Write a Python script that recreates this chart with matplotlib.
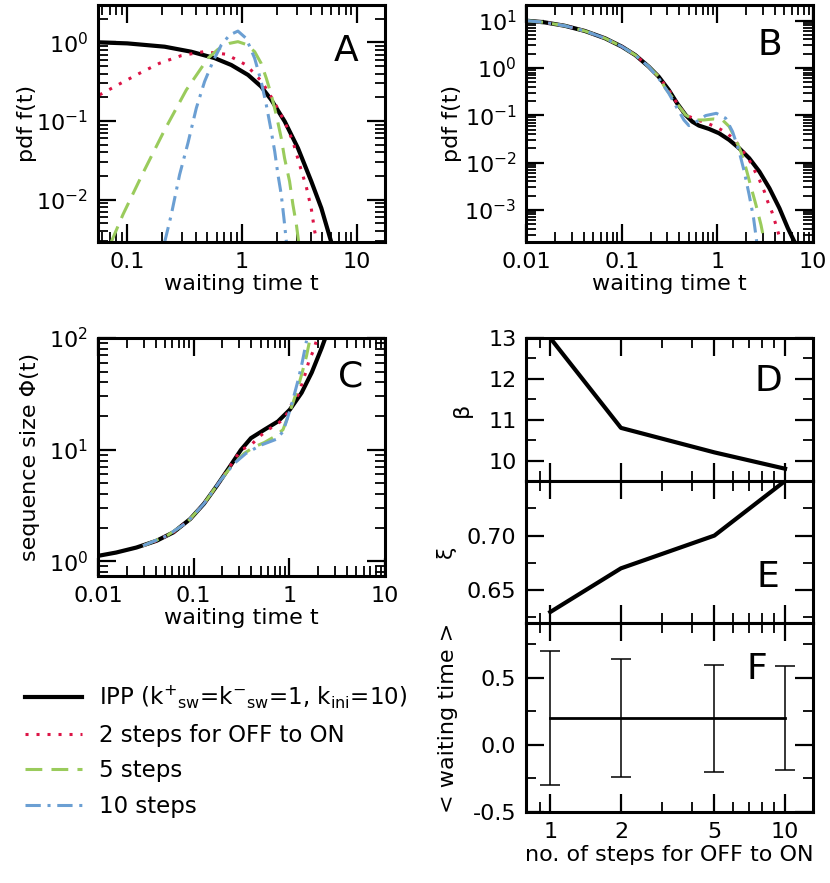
import numpy as np
import matplotlib.pyplot as plt
from matplotlib import ticker

plt.rcParams['font.family'] = ['DejaVu Sans']
plt.rcParams['mathtext.default'] = 'regular'
plt.rcParams['axes.unicode_minus'] = False

# ---------------- data ----------------
# A : pdf f(t), IPP (k_sw = 1, k_ini = 10)
tA_ipp = [0.0555, 0.1, 0.212, 0.361, 0.578, 0.807, 1.13, 1.47, 1.80, 2.36, 3.08, 4.02, 4.92, 6.0]
fA_ipp = [1.0, 0.97, 0.88, 0.76, 0.63, 0.515, 0.385, 0.274, 0.186, 0.0986, 0.045, 0.0171, 0.0078, 0.0029]
tA_2 = [0.0574, 0.0857, 0.128, 0.191, 0.296, 0.466, 0.730, 1.09, 1.49, 1.90, 2.35, 2.78, 3.18,
        3.64, 4.02, 4.30, 4.51]
fA_2 = [0.215, 0.296, 0.404, 0.542, 0.678, 0.762, 0.705, 0.515, 0.317, 0.177, 0.0985, 0.055,
        0.0278, 0.0145, 0.0077, 0.0040, 0.0029]
tA_5 = [0.0725, 0.0917, 0.137, 0.212, 0.327, 0.505, 0.618, 0.780, 0.922, 1.09, 1.29, 1.47, 1.63,
        1.80, 1.99, 2.20, 2.35, 2.60, 2.78, 2.98, 3.12]
fA_5 = [0.0029, 0.00646, 0.0218, 0.0773, 0.248, 0.627, 0.815, 0.971, 1.02, 0.94, 0.76, 0.54, 0.349,
        0.215, 0.120, 0.0605, 0.0338, 0.0171, 0.00864, 0.00482, 0.0029]
tA_10 = [0.212, 0.242, 0.286, 0.338, 0.400, 0.472, 0.558, 0.660, 0.780, 0.922, 1.09, 1.29, 1.47,
         1.63, 1.78, 1.93, 2.06, 2.20, 2.32, 2.44]
fA_10 = [0.0029, 0.00645, 0.0208, 0.0524, 0.146, 0.317, 0.569, 0.925, 1.24, 1.39, 1.12, 0.627,
         0.317, 0.160, 0.0811, 0.041, 0.0207, 0.0116, 0.00585, 0.0029]

# B : pdf f(t), second parameter set
tB_ipp = [0.01, 0.0156, 0.0253, 0.0411, 0.0668, 0.1, 0.138, 0.191, 0.243, 0.310, 0.379, 0.465,
          0.546, 0.641, 0.817, 1.04, 1.33, 1.69, 2.15, 2.75, 3.50, 4.46, 5.46, 6.41]
fB_ipp = [10.0, 9.2, 7.8, 6.05, 4.24, 2.83, 1.88, 1.07, 0.656, 0.343, 0.179, 0.1016, 0.0734,
          0.0605, 0.0514, 0.0417, 0.0301, 0.0201, 0.0124, 0.00645, 0.00287, 0.00108, 4.1e-4, 2.1e-4]
tB_2 = [0.01, 0.0156, 0.0253, 0.0411, 0.0668, 0.1, 0.138, 0.191, 0.243, 0.310, 0.379, 0.465,
        0.615, 0.785, 1.0, 1.27, 1.56, 1.83, 2.15, 2.43, 2.75, 3.10, 3.36, 3.73, 4.05, 4.39, 4.60]
fB_2 = [10.0, 9.2, 7.8, 6.05, 4.24, 2.83, 1.88, 1.07, 0.656, 0.343, 0.179, 0.1016, 0.0796, 0.0678,
        0.0548, 0.0417, 0.0278, 0.0179, 0.0114, 0.0070, 0.0043, 0.00244, 0.0015, 8.9e-4, 5.2e-4,
        3.0e-4, 2.1e-4]
tB_5 = [0.01, 0.0156, 0.0253, 0.0411, 0.0668, 0.1, 0.138, 0.191, 0.243, 0.286, 0.364, 0.465, 0.567,
        0.724, 0.922, 1.13, 1.33, 1.56, 1.76, 1.99, 2.24, 2.53, 2.86, 3.10]
fB_5 = [10.0, 9.2, 7.8, 6.05, 4.24, 2.83, 1.88, 1.07, 0.656, 0.372, 0.195, 0.1016, 0.0796, 0.0796,
        0.0837, 0.0796, 0.0577, 0.0301, 0.0171, 0.0076, 0.00311, 0.00128, 4.8e-4, 2.1e-4]
tB_10 = [0.01, 0.0156, 0.0253, 0.0411, 0.0668, 0.1, 0.138, 0.191, 0.243, 0.310, 0.379, 0.446,
         0.503, 0.592, 0.754, 0.975, 1.22, 1.44, 1.69, 1.91, 2.15, 2.39, 2.58]
fB_10 = [10.0, 9.2, 7.8, 6.05, 4.24, 2.83, 1.88, 1.07, 0.605, 0.292, 0.141, 0.0796, 0.0605, 0.0712,
         0.0985, 0.110, 0.0865, 0.0452, 0.0171, 0.00645, 0.00207, 6.7e-4, 2.1e-4]

# C : sequence size Phi(t)
tC_ipp = [0.01, 0.0155, 0.0252, 0.041, 0.0615, 0.0922, 0.128, 0.176, 0.244, 0.311, 0.397, 0.548,
          0.759, 1.01, 1.34, 1.71, 2.18, 2.42]
phiC_ipp = [1.12, 1.20, 1.33, 1.53, 1.82, 2.40, 3.28, 4.80, 7.26, 9.93, 12.7, 15.1, 17.9, 22.8,
            32.3, 49.0, 82.0, 105.0]
tC_2 = [0.0296, 0.041, 0.0615, 0.0922, 0.128, 0.176, 0.244, 0.311, 0.397, 0.486, 0.596, 0.730,
        0.894, 1.05, 1.24, 1.36, 1.48, 1.60, 1.78, 1.93]
phiC_2 = [1.38, 1.53, 1.82, 2.40, 3.28, 4.80, 7.26, 9.93, 11.0, 13.1, 15.1, 16.7, 19.2, 25.3, 31.2,
          39.7, 49.0, 62.4, 76.9, 96.6]
tC_5 = [0.0296, 0.0522, 0.085, 0.128, 0.191, 0.244, 0.337, 0.430, 0.548, 0.700, 0.857, 0.968, 1.09,
        1.24, 1.36, 1.51, 1.64]
phiC_5 = [1.38, 1.69, 2.23, 3.28, 5.32, 7.02, 9.27, 10.6, 11.6, 13.1, 15.1, 19.9, 26.2, 37.1, 49.0,
          69.2, 97.9]
tC_10 = [0.0296, 0.0522, 0.085, 0.128, 0.191, 0.265, 0.352, 0.506, 0.730, 0.857, 0.968, 1.09, 1.24,
         1.36, 1.51]
phiC_10 = [1.38, 1.69, 2.23, 3.28, 5.32, 7.53, 9.27, 11.0, 12.4, 14.5, 19.9, 28.1, 42.7, 60.3, 94.6]

# D, E, F : fit parameters vs number of steps
steps = [1, 2, 5, 10]
beta = [13.0, 10.8, 10.2, 9.8]
xi = [0.63, 0.67, 0.70, 0.75]
mean_wait = [0.2, 0.2, 0.2, 0.2]
wait_err = [0.5, 0.44, 0.40, 0.39]

labels = [r'IPP (k$^{+}$$_{sw}$=k$^{-}$$_{sw}$=1, k$_{ini}$=10)',
          '2 steps for OFF to ON', '5 steps', '10 steps']

RED = '#dc1446'
GREEN = '#9acb5c'
BLUE = '#6b9fd3'
ls_dot = (0, (1, 2.6))
ls_dash = (0, (5.5, 3))
ls_dd = (0, (5, 2.2, 1, 2.2))


def style(ax):
    ax.tick_params(which='both', direction='in', top=True, right=True, labelsize=16, pad=7)
    ax.tick_params(which='major', length=13, width=1.6)
    ax.tick_params(which='minor', length=7, width=1.3)
    for s in ax.spines.values():
        s.set_linewidth(2.2)


def log_axes(ax):
    ax.set_xscale('log')
    ax.set_yscale('log')
    ax.yaxis.set_major_locator(ticker.LogLocator(base=10, numticks=20))
    ax.yaxis.set_minor_locator(ticker.LogLocator(base=10, subs=np.arange(2, 10), numticks=100))
    ax.xaxis.set_major_locator(ticker.LogLocator(base=10, numticks=20))
    ax.xaxis.set_minor_locator(ticker.LogLocator(base=10, subs=np.arange(2, 10), numticks=100))
    ax.xaxis.set_major_formatter(ticker.FuncFormatter(lambda v, p: '%g' % v))
    ax.xaxis.set_minor_formatter(ticker.NullFormatter())
    ax.yaxis.set_minor_formatter(ticker.NullFormatter())
    style(ax)


def four_curves(ax, t0, y0, t2, y2, t5, y5, t10, y10):
    h = []
    h += ax.plot(t0, y0, color='k', lw=3.0)
    h += ax.plot(t2, y2, color=RED, lw=2.2, ls=ls_dot)
    h += ax.plot(t5, y5, color=GREEN, lw=2.2, ls=ls_dash)
    h += ax.plot(t10, y10, color=BLUE, lw=2.2, ls=ls_dd)
    return h


fig = plt.figure(figsize=(8.3, 8.83), dpi=100)

axA = fig.add_axes([0.118, 0.726, 0.346, 0.2683])
handles = four_curves(axA, tA_ipp, fA_ipp, tA_2, fA_2, tA_5, fA_5, tA_10, fA_10)
log_axes(axA)
axA.set_xlim(0.0555, 17.7)
axA.set_ylim(0.0029, 2.98)
axA.set_xlabel('waiting time t', fontsize=16, labelpad=2)
axA.set_ylabel('pdf f(t)', fontsize=16)
axA.yaxis.set_label_coords(-0.213, 0.5)
axA.text(0.863, 0.807, 'A', transform=axA.transAxes, fontsize=26, ha='center', va='center')

axB = fig.add_axes([0.634, 0.726, 0.3455, 0.2683])
four_curves(axB, tB_ipp, fB_ipp, tB_2, fB_2, tB_5, fB_5, tB_10, fB_10)
log_axes(axB)
axB.set_xlim(0.01, 10)
axB.set_ylim(2.1e-4, 21.4)
axB.set_xlabel('waiting time t', fontsize=16, labelpad=2)
axB.set_ylabel('pdf f(t)', fontsize=16)
axB.yaxis.set_label_coords(-0.223, 0.5)
axB.text(0.85, 0.83, 'B', transform=axB.transAxes, fontsize=26, ha='center', va='center')

axC = fig.add_axes([0.118, 0.3477, 0.346, 0.2695])
four_curves(axC, tC_ipp, phiC_ipp, tC_2, phiC_2, tC_5, phiC_5, tC_10, phiC_10)
log_axes(axC)
axC.set_xlim(0.01, 10)
axC.set_ylim(0.74, 100)
axC.set_xlabel('waiting time t', fontsize=16, labelpad=2)
axC.set_ylabel('sequence size \u03a6(t)', fontsize=16)
axC.yaxis.set_label_coords(-0.202, 0.5)
axC.text(0.88, 0.84, 'C', transform=axC.transAxes, fontsize=26, ha='center', va='center')

# right column: D, E, F stacked with shared x
axD = fig.add_axes([0.634, 0.4553, 0.3455, 0.1619])
axE = fig.add_axes([0.634, 0.2945, 0.3455, 0.1608])
axF = fig.add_axes([0.634, 0.0804, 0.3455, 0.2141])

axD.plot(steps, beta, color='k', lw=3.0)
axE.plot(steps, xi, color='k', lw=3.0)
axF.errorbar(steps, mean_wait, yerr=wait_err, color='k', lw=2.0, elinewidth=1.1,
             capsize=7, capthick=1.1)

for ax in (axD, axE, axF):
    ax.set_xscale('log')
    ax.set_xlim(0.79, 13.15)
    ax.xaxis.set_major_locator(ticker.FixedLocator([1, 2, 5, 10]))
    ax.xaxis.set_minor_locator(ticker.FixedLocator([0.9, 3, 4, 6, 7, 8, 9]))
    ax.xaxis.set_major_formatter(ticker.FuncFormatter(lambda v, p: '%g' % v))
    ax.xaxis.set_minor_formatter(ticker.NullFormatter())
    style(ax)
axD.tick_params(labelbottom=False)
axE.tick_params(labelbottom=False)

axD.set_ylim(9.5, 13)
axD.set_yticks([10, 11, 12, 13])
axD.yaxis.set_minor_locator(ticker.MultipleLocator(0.5))
axD.set_ylabel('\u03b2', fontsize=16)
axD.yaxis.set_label_coords(-0.188, 0.5)
axD.text(0.843, 0.70, 'D', transform=axD.transAxes, fontsize=26, ha='center', va='center')

axE.set_ylim(0.62, 0.75)
axE.set_yticks([0.65, 0.70])
axE.yaxis.set_major_formatter(ticker.FormatStrFormatter('%.2f'))
axE.yaxis.set_minor_locator(ticker.MultipleLocator(0.025))
axE.set_ylabel('\u03be', fontsize=16)
axE.yaxis.set_label_coords(-0.247, 0.5)
axE.text(0.843, 0.326, 'E', transform=axE.transAxes, fontsize=26, ha='center', va='center')

axF.set_ylim(-0.5, 0.91)
axF.set_yticks([-0.5, 0.0, 0.5])
axF.yaxis.set_major_formatter(ticker.FormatStrFormatter('%.1f'))
axF.yaxis.set_minor_locator(ticker.MultipleLocator(0.25))
axF.set_ylabel('< waiting time >', fontsize=16)
axF.yaxis.set_label_coords(-0.237, 0.5)
axF.set_xlabel('no. of steps for OFF to ON', fontsize=16, labelpad=2)
axF.text(0.805, 0.757, 'F', transform=axF.transAxes, fontsize=26, ha='center', va='center')

fig.legend(handles, labels, loc='upper left', bbox_to_anchor=(0.030, 0.226), frameon=False,
           fontsize=16.5, handlelength=2.5, handletextpad=0.75, labelspacing=0.55,
           borderpad=0, borderaxespad=0)

fig.savefig('out.png', dpi=100)
